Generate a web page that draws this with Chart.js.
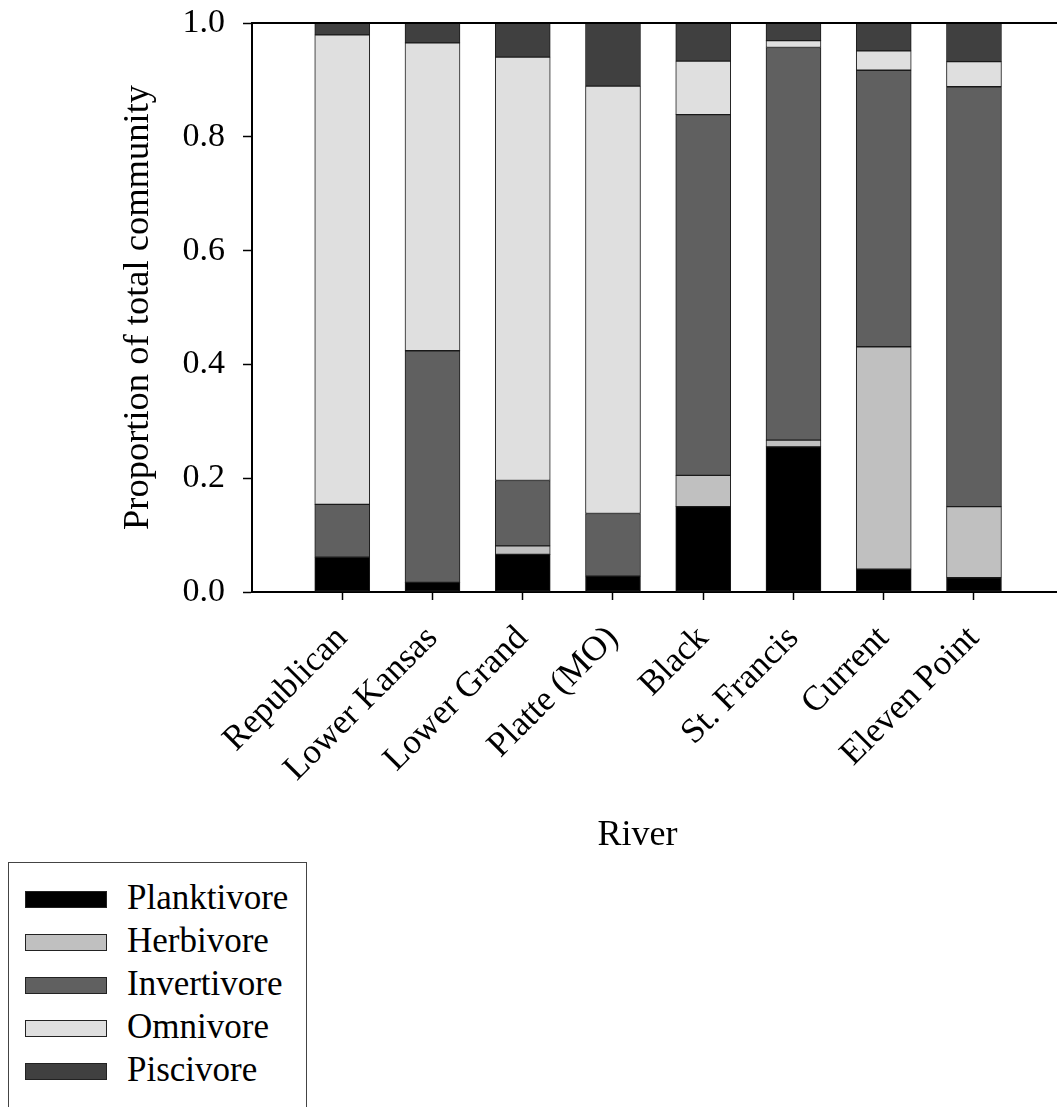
<!DOCTYPE html>
<html>
<head>
<meta charset="utf-8">
<script src="https://cdn.jsdelivr.net/npm/chart.js@4/dist/chart.umd.min.js"></script>
<style>
body{margin:0;background:#fff;overflow:hidden}
#wrap{position:relative;width:1057px;height:1107px}
#legend{position:absolute;left:8px;top:862px;width:299px;height:260px;border:1px solid #444;box-sizing:border-box;font-family:"Liberation Serif",serif;font-size:35px;color:#000}
.item{position:absolute;left:16px;height:17px}
.sw{position:absolute;left:0;top:0;width:80px;height:15px;border:1px solid #222}
.lb{position:absolute;left:102px;top:-13px;line-height:40px;white-space:nowrap}
</style>
</head>
<body>
<div id="wrap">
<canvas id="chart" width="1057" height="850"></canvas>
<div id="legend"></div>
</div>
<script>
var rivers = ['Republican','Lower Kansas','Lower Grand','Platte (MO)','Black','St. Francis','Current','Eleven Point']
var planktivore = [0.061, 0.017, 0.066, 0.028, 0.150, 0.255, 0.040, 0.025]
var herbivore   = [0.000, 0.000, 0.015, 0.000, 0.055, 0.012, 0.391, 0.125]
var invertivore = [0.093, 0.407, 0.115, 0.110, 0.634, 0.690, 0.486, 0.738]
var omnivore    = [0.825, 0.541, 0.744, 0.751, 0.094, 0.012, 0.034, 0.044]
var piscivore   = [0.021, 0.035, 0.060, 0.111, 0.067, 0.031, 0.049, 0.068]
var yTicks = [0, 0.2, 0.4, 0.6, 0.8, 1.0]

var groups = [
    {name:'Planktivore', data:planktivore, color:'#000000'},
    {name:'Herbivore', data:herbivore, color:'#c0c0c0'},
    {name:'Invertivore', data:invertivore, color:'#606060'},
    {name:'Omnivore', data:omnivore, color:'#dfdfdf'},
    {name:'Piscivore', data:piscivore, color:'#404040'}
]
var serif = '"Liberation Serif", "Times New Roman", serif'

var datasets = groups.map(function(g){
    return {
        label:g.name,
        data:g.data.map(function(v,i){ return {x:i+1, y:v} }),
        backgroundColor:g.color,
        borderColor:'#1a1a1a',
        borderWidth:1,
        borderSkipped:false,
        barThickness:55
    }
})

// top frame line + x axis title
var extras = {
    id:'extras',
    afterDraw:function(chart){
        var c = chart.ctx, a = chart.chartArea
        c.save()
        c.strokeStyle = '#000'
        c.lineWidth = 2
        c.beginPath()
        c.moveTo(a.left, a.top)
        c.lineTo(a.right, a.top)
        c.stroke()
        c.fillStyle = '#000'
        c.font = '36px ' + serif
        c.textAlign = 'center'
        c.textBaseline = 'middle'
        c.fillText('River', a.left + (a.right - a.left) * 0.479, 836)
        c.restore()
    }
}

var chart1 = new Chart(document.getElementById('chart').getContext('2d'), {
    type:'bar',
    data:{datasets:datasets},
    plugins:[extras],
    options:{
        responsive:false,
        animation:false,
        layout:{padding:{top:23, right:0, left:0, bottom:0}},
        plugins:{legend:{display:false}, tooltip:{enabled:false}},
        scales:{
            x:{
                type:'linear',
                stacked:true,
                offset:false,
                min:0,
                max:8.92,
                afterBuildTicks:function(s){ s.ticks = rivers.map(function(r,i){ return {value:i+1} }) },
                afterFit:function(s){ s.height = 850 - 592; s.paddingLeft = 0; s.paddingRight = 0 },
                grid:{offset:false, drawOnChartArea:false, color:'#000', tickLength:8, tickWidth:1.5},
                border:{color:'#000', width:2},
                ticks:{
                    autoSkip:false,
                    maxRotation:45,
                    minRotation:45,
                    padding:18,
                    color:'#000',
                    font:{family:serif, size:35},
                    callback:function(v){ return rivers[v-1] || '' }
                }
            },
            y:{
                stacked:true,
                min:0,
                max:1,
                afterBuildTicks:function(s){ s.ticks = yTicks.map(function(v){ return {value:v} }) },
                afterFit:function(s){ s.width = 252; s.paddingTop = 0; s.paddingBottom = 0 },
                grid:{drawOnChartArea:false, color:'#000', tickLength:9, tickWidth:1.5},
                border:{color:'#000', width:2},
                ticks:{
                    padding:18,
                    color:'#000',
                    font:{family:serif, size:34},
                    callback:function(v){ return v.toFixed(1) }
                },
                title:{
                    display:true,
                    text:'Proportion of total community',
                    color:'#000',
                    font:{family:serif, size:36.5},
                    padding:{top:117, bottom:0}
                }
            }
        }
    }
})

var legend = document.getElementById('legend')
groups.forEach(function(g,i){
    var it = document.createElement('div')
    it.className = 'item'
    it.style.top = (28 + i*43) + 'px'
    it.innerHTML = '<div class="sw" style="background:'+g.color+'"></div><div class="lb">'+g.name+'</div>'
    legend.appendChild(it)
})
</script>
</body>
</html>
